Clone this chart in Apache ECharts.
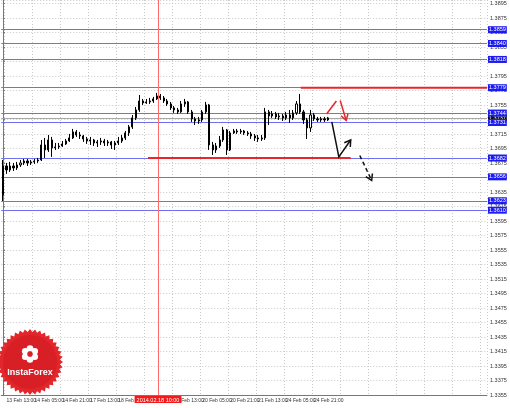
<!DOCTYPE html>
<html><head><meta charset="utf-8">
<script src="https://cdn.jsdelivr.net/npm/echarts@6/dist/echarts.min.js"></script>
<style>html,body{margin:0;padding:0;background:#fff}#c{width:510px;height:408px}</style>
</head><body><div id="c"></div>
<script>
// 2-hour candles: [open, close, low, high]
const candles = [
[1.36310,1.36710,1.36227,1.36793],[1.36710,1.36655,1.36600,1.36752],[1.36655,1.36710,1.36628,1.36766],
[1.36710,1.36683,1.36641,1.36752],[1.36683,1.36724,1.36655,1.36766],[1.36724,1.36752,1.36697,1.36793],
[1.36752,1.36779,1.36724,1.36807],[1.36779,1.36752,1.36710,1.36807],[1.36752,1.36766,1.36724,1.36793],
[1.36766,1.36779,1.36738,1.36807],[1.36779,1.36793,1.36752,1.36821],[1.36793,1.37000,1.36779,1.37069],
[1.37000,1.36931,1.36821,1.37097],[1.36931,1.37069,1.36904,1.37138],[1.37069,1.36959,1.36835,1.37111],
[1.36959,1.36973,1.36931,1.37028],[1.36973,1.36986,1.36945,1.37028],[1.36986,1.37014,1.36973,1.37055],
[1.37014,1.37055,1.37000,1.37083],[1.37055,1.37097,1.37042,1.37152],[1.37097,1.37180,1.37083,1.37221],
[1.37180,1.37138,1.37111,1.37207],[1.37138,1.37124,1.37083,1.37180],[1.37124,1.37083,1.37042,1.37138],
[1.37083,1.37055,1.37014,1.37111],[1.37055,1.37069,1.37000,1.37111],[1.37069,1.37028,1.36986,1.37083],
[1.37028,1.37042,1.36973,1.37069],[1.37042,1.37055,1.37000,1.37097],[1.37055,1.37028,1.36986,1.37083],
[1.37028,1.37042,1.36986,1.37069],[1.37042,1.37000,1.36945,1.37055],[1.37000,1.37028,1.36931,1.37055],
[1.37028,1.37055,1.37000,1.37111],[1.37055,1.37097,1.37028,1.37138],[1.37097,1.37166,1.37069,1.37193],
[1.37166,1.37249,1.37124,1.37276],[1.37249,1.37373,1.37221,1.37414],[1.37373,1.37483,1.37345,1.37525],
[1.37483,1.37607,1.37456,1.37690],[1.37607,1.37580,1.37552,1.37635],[1.37580,1.37594,1.37566,1.37635],
[1.37594,1.37607,1.37566,1.37649],[1.37607,1.37635,1.37580,1.37663],[1.37635,1.37676,1.37621,1.37718],
[1.37676,1.37649,1.37621,1.37704],[1.37649,1.37607,1.37580,1.37676],[1.37607,1.37566,1.37538,1.37635],
[1.37566,1.37511,1.37483,1.37594],[1.37511,1.37483,1.37442,1.37538],[1.37483,1.37456,1.37428,1.37511],
[1.37456,1.37566,1.37442,1.37607],[1.37566,1.37594,1.37525,1.37635],[1.37594,1.37456,1.37428,1.37607],
[1.37456,1.37359,1.37318,1.37483],[1.37359,1.37331,1.37276,1.37387],[1.37331,1.37345,1.37290,1.37387],
[1.37345,1.37456,1.37318,1.37483],[1.37456,1.37552,1.37428,1.37594],[1.37552,1.37000,1.36931,1.37566],
[1.37000,1.36931,1.36862,1.37042],[1.36931,1.36986,1.36890,1.37028],[1.36986,1.37069,1.36959,1.37124],
[1.37069,1.37207,1.37042,1.37249],[1.37207,1.36931,1.36862,1.37221],[1.36931,1.37166,1.36917,1.37193],
[1.37166,1.37193,1.37152,1.37221],[1.37193,1.37180,1.37152,1.37221],[1.37180,1.37193,1.37152,1.37221],
[1.37193,1.37166,1.37138,1.37207],[1.37166,1.37152,1.37124,1.37193],[1.37152,1.37124,1.37083,1.37180],
[1.37124,1.37097,1.37055,1.37152],[1.37097,1.37083,1.37042,1.37138],[1.37083,1.37097,1.37055,1.37138],
[1.37097,1.37456,1.37069,1.37511],[1.37456,1.37400,1.37276,1.37483],[1.37400,1.37428,1.37373,1.37469],
[1.37428,1.37387,1.37359,1.37456],[1.37387,1.37400,1.37345,1.37442],[1.37400,1.37373,1.37331,1.37428],
[1.37373,1.37414,1.37345,1.37456],[1.37414,1.37373,1.37304,1.37483],[1.37373,1.37442,1.37345,1.37483],
[1.37442,1.37566,1.37414,1.37607],[1.37566,1.37456,1.37428,1.37704],[1.37456,1.37345,1.37290,1.37483],
[1.37345,1.37235,1.37083,1.37373],[1.37235,1.37414,1.37180,1.37483],[1.37414,1.37359,1.37331,1.37442],
[1.37359,1.37345,1.37318,1.37387],[1.37345,1.37359,1.37318,1.37387],[1.37359,1.37345,1.37318,1.37387],
[1.37345,1.37373,1.37331,1.37387]
];
const slotCount = 139;               // 2-hour slots incl. empty right margin
const labelEvery = 8;                // one time label every 16 hours
const xTickLabels = ['13 Feb 13:00','14 Feb 05:00','14 Feb 21:00','17 Feb 13:00','18 Feb 05:00','18 Feb 21:00',
  '19 Feb 13:00','20 Feb 05:00','20 Feb 21:00','21 Feb 13:00','24 Feb 05:00','24 Feb 21:00'];
const yMin = 1.3355, yMax = 1.3900, yStep = 0.0020;
const blueLevels = [1.3859, 1.3840, 1.3818, 1.3779, 1.3744, 1.3731, 1.3682, 1.3656, 1.3623, 1.3610];
const bidPrice = 1.3737;
// red segments: [fromSlot, toSlot, level]
const redSegments = [[85.2, 138.5, 1.3779], [41.5, 99.5, 1.3682]];
const crosshairSlot = 44.36;
const crosshairLabel = '2014.02.18 10:00';
// arrows in [slot, price]
const arrows = [
  {color:'#e8262b', head:false, dashed:false, points:[[92.6,1.37428],[95.4,1.37607]]},
  {color:'#e8262b', head:true,  dashed:false, points:[[96.5,1.37614],[98.2,1.37338]]},
  {color:'#111111', head:true,  dashed:false, points:[[94.1,1.37318],[96.1,1.36835],[99.5,1.37069]]},
  {color:'#111111', head:true,  dashed:true,  points:[[102.1,1.36855],[105.5,1.36510]]}
];

const slots = Array.from({length: slotCount}, (_, i) => String(i));
const FONT = 'Liberation Sans';
const chart = echarts.init(document.getElementById('c'), null, {renderer:'canvas'});

function isTick(v){ const k=(v-yMin)/yStep; return Math.abs(k-Math.round(k))<1e-6; }

function boxLabel(v, bg){
  return {show:true, position:'end', distance:1, formatter: v.toFixed(4), backgroundColor:bg,
          color:'#fff', fontSize:5.5, fontFamily:FONT, padding:[1,1,0,1]};
}
const levelLines = [{
  yAxis: bidPrice, lineStyle:{color:'#a8a8a8', width:1, type:'solid'}, label: boxLabel(bidPrice, '#111')
}].concat(blueLevels.map(v => ({
  yAxis: v, lineStyle:{color:'#6f6ff2', width:1, type:'solid'}, label: boxLabel(v, '#1c1cf0')
})));

const option = {
  animation:false,
  backgroundColor:'#ffffff',
  grid:{left:0, right:23, top:0, bottom:13, containLabel:false},
  xAxis:[{
    type:'category', data:slots, boundaryGap:true,
    axisLine:{show:true, lineStyle:{color:'#777'}}, axisTick:{show:false},
    axisLabel:{interval:0, fontSize:5, fontFamily:FONT, color:'#333', align:'left', margin:3,
      formatter:(v,i)=> (i%labelEvery===1 && xTickLabels[(i-1)/labelEvery]) || ''},
    splitLine:{show:true, interval:(i)=> i%labelEvery===1, lineStyle:{color:'#c9c9c9', width:1, type:[1,2]}}
  },{
    type:'value', min:-0.5, max:slotCount-0.5, show:false
  }],
  yAxis:{
    type:'value', position:'right', min:yMin, max:yMax, interval:yStep,
    axisLine:{show:true, lineStyle:{color:'#777'}},
    axisTick:{show:true, length:2, lineStyle:{color:'#777'}},
    axisLabel:{fontSize:5.5, fontFamily:FONT, color:'#333', margin:3, showMaxLabel:false,
      formatter:v=> isTick(v)? v.toFixed(4):''},
    splitLine:{show:true, lineStyle:{color:'#c9c9c9', width:1, type:[1,2]}}
  },
  series:[
    {type:'line', xAxisIndex:1, yAxisIndex:0, symbol:'none', silent:true, z:1,
      data:[[crosshairSlot, bidPrice]],
      markLine:{silent:true, z:1, precision:5, symbol:['none','none'], animation:false, data:levelLines}
    },
    {type:'candlestick', xAxisIndex:0, yAxisIndex:0, data:candles, barWidth:1.6, z:4,
      itemStyle:{color:'#ffffff', color0:'#000000', borderColor:'#000000', borderColor0:'#000000', borderWidth:1}
    },
    ...redSegments.map((s, k) => ({
      type:'line', xAxisIndex:1, yAxisIndex:0, symbol:'none', silent:true, z:3,
      data:[[s[0], s[2]], [s[1], s[2]]],
      lineStyle:{color:'#e8262b', width:2},
      markLine: k===0 ? {silent:true, z:2, precision:5, symbol:['none','none'], animation:false, data:[{
        xAxis: crosshairSlot, lineStyle:{color:'#ff6b6b', width:1, type:'solid'},
        label:{show:true, position:'start', distance:1, formatter:crosshairLabel, backgroundColor:'#f21a1a',
          color:'#fff', fontSize:5.5, fontFamily:FONT, padding:[1,2,0,2]}
      }]} : undefined
    }))
  ]
};
chart.setOption(option);

// logo (decoration)
const logo = [];
const cx=30, cy=362, teeth=40, pts=[];
for(let i=0;i<teeth*2;i++){ const r = i%2? 30:33; const a = i*Math.PI/teeth; pts.push([cx+r*Math.cos(a), cy+r*Math.sin(a)]); }
logo.push({type:'polygon', shape:{points:pts}, style:{fill:'#e3262c'}, z:50, silent:true});
logo.push({type:'circle', shape:{cx:cx, cy:cy, r:27}, style:{fill:'#d81f25'}, z:50, silent:true});
for(let i=0;i<6;i++){ const a = i*Math.PI/3 - Math.PI/2;
  logo.push({type:'circle', shape:{cx:cx+5.5*Math.cos(a), cy:cy-8+5.5*Math.sin(a), r:3.3}, style:{fill:'#ffffff'}, z:51, silent:true}); }
logo.push({type:'circle', shape:{cx:cx, cy:cy-8, r:2.7}, style:{fill:'#d81f25'}, z:52, silent:true});
logo.push({type:'text', x:cx, y:cy+11, style:{text:'InstaForex', fill:'#ffffff', font:'bold 9px "Liberation Sans"', align:'center', verticalAlign:'middle'}, z:53, silent:true});

// arrows converted through the chart's own axes
const g = [];
function toPx(p){ return chart.convertToPixel({xAxisIndex:1, yAxisIndex:0}, p); }
arrows.forEach(a => {
  const p = a.points.map(toPx);
  g.push({type:'polyline', shape:{points:p}, style:{stroke:a.color, lineWidth:1.5, fill:null, lineDash:a.dashed?[4,3]:null}, z:100, silent:true});
  if(a.head){
    const [x1,y1]=p[p.length-2], [x2,y2]=p[p.length-1];
    const ang=Math.atan2(y2-y1,x2-x1), L=7, w=0.55;
    g.push({type:'polyline', shape:{points:[[x2-L*Math.cos(ang-w), y2-L*Math.sin(ang-w)],[x2,y2],[x2-L*Math.cos(ang+w), y2-L*Math.sin(ang+w)]]},
      style:{stroke:a.color, lineWidth:1.5, fill:null}, z:100, silent:true});
  }
});
chart.setOption({graphic: logo.concat(g)});
</script></body></html>
